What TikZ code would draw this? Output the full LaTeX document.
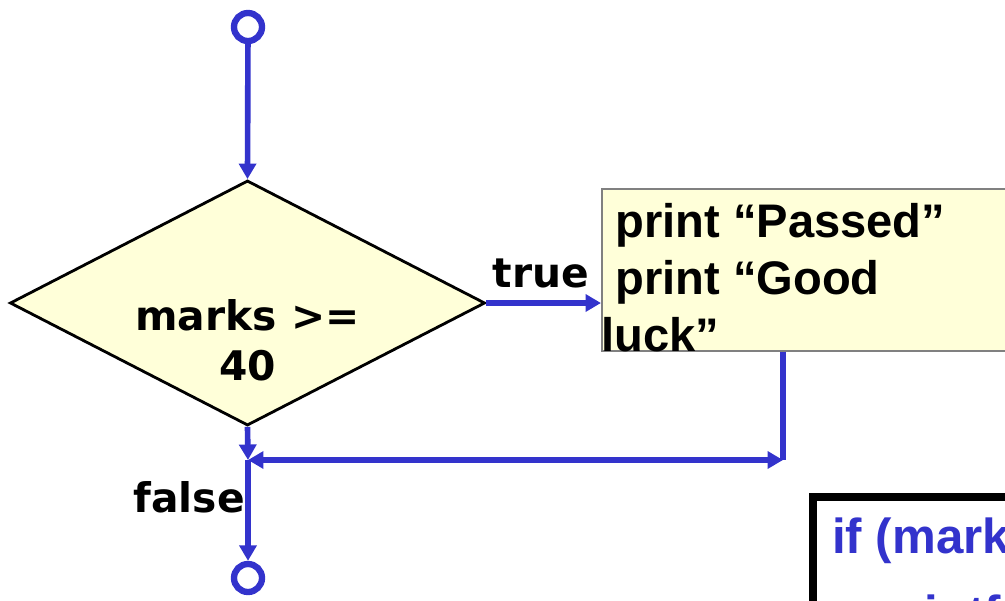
\documentclass[tikz,border=0pt]{standalone}
\usepackage{fontspec}
\setmainfont{Liberation Sans}
\newfontfamily\dejavu{DejaVu Sans}
\usetikzlibrary{arrows.meta,shapes.geometric,positioning}
\definecolor{flowblue}{RGB}{51,51,204}
\definecolor{paleyellow}{RGB}{255,255,217}

\begin{document}
\begin{tikzpicture}[ % GLOBAL CFG
    x=0.025cm, y=-0.025cm,
    >={Triangle[length=11pt,width=12pt]},
    % Styles
    decision/.style={% For the marks test
        diamond,
        draw,
        line width=2pt,
        fill=paleyellow,
        minimum width=11.875cm,
        minimum height=6.125cm,
        inner sep=0pt,
        },
    action/.style={% For the print box
        rectangle,
        draw=gray,
        line width=1.2pt,
        fill=paleyellow,
        anchor=north west,
        minimum width=12.5cm,
        minimum height=4.05cm,
        },
    terminal/.style={% For start and end
        circle,
        draw=flowblue,
        line width=4.5pt,
        minimum size=0.7cm,
        inner sep=0pt,
        },
    flow/.style={% Connectors
        draw=flowblue,
        line width=4pt,
        },
    tag/.style={% true / false and the test text
        font=\dejavu\bfseries\fontsize{29}{35.5}\selectfont,
        inner sep=0pt,
        align=center,
        },
    boxtext/.style={%
        font=\bfseries\fontsize{33.5}{40.5}\selectfont,
        inner sep=0pt,
        align=left,
        },
    code/.style={%
        font=\bfseries\fontsize{35}{42}\selectfont,
        text=flowblue,
        inner sep=0pt,
        },
    ]
    \path[use as bounding box, clip] (0,0) rectangle (1005,600);

    % Start, test and end
    \node [terminal] (start) at (248,27) {};
    \node [decision] (test) at (247.5,303) {};
    \node [tag, anchor=base] (testtext) at (247.5,380) {marks >=\\40};
    \node [terminal] (stop) at (248,578) {};

    % Print box
    \node [action] (print) at (601,188) {};
    \node [boxtext, anchor=north west] (printtext) at (601,203)
        {\hspace*{0.3em}print “Passed”\\\hspace*{0.3em}print “Good\\luck”};

    % Labels
    \node [tag, anchor=base] (true) at (541,287) {true};
    \node [tag, anchor=base east] (false) at (245,512) {false};

    % Merge points
    \coordinate (join) at (248,460);
    \coordinate (corner) at (783,460);

    \draw [flow, ->] (start) -- (test.north);
    \draw [flow, ->] (test.east) -- (test.east -| print.west);
    \draw [flow] (print.south -| corner) -- (corner);
    \draw [flow, <->] (join) -- (corner);
    \draw [flow, ->] (test.south) -- (join);
    \draw [flow, ->] (join) -- (stop.north);

    % C code
    \node [draw, line width=5.7pt, fill=white, anchor=north west,
           minimum width=8cm, minimum height=4cm] (codebox) at (809,493) {};
    \node [code, anchor=base west] (ifline) at (832,553) {if (marks};
    \node [code, anchor=base west] (printfline) at (875,630) {printf};
\end{tikzpicture}
\end{document}
